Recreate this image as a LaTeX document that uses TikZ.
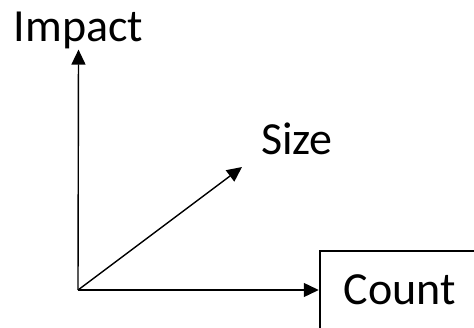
\documentclass[tikz,border=0pt]{standalone}
\usepackage{fontspec}
\setmainfont{Carlito}
\usetikzlibrary{arrows.meta}
\begin{document}
\begin{tikzpicture}[x=1pt,y=1pt,
  axis/.style={line width=1.4pt,-{Triangle[length=15pt,width=14pt]}},
  lbl/.style={font=\fontsize{46}{55}\selectfont,inner sep=0pt}]
\useasboundingbox (0,0) rectangle (474,327);
\coordinate (o) at (78,37);
\node[lbl,anchor=base] (impact) at (78.5,285) {Impact};
\node[lbl,anchor=base] (size) at (297,172) {Size};
\coordinate (sizetip) at (242,160);
\node[lbl,draw,line width=2.5pt,minimum width=160pt,minimum height=78pt] (count) at (400,37) {Count};
\draw[axis] (o) -- (impact.south);
\draw[axis] (o) -- (sizetip);
\draw[axis] (o) -- (count.west);
\end{tikzpicture}
\end{document}
